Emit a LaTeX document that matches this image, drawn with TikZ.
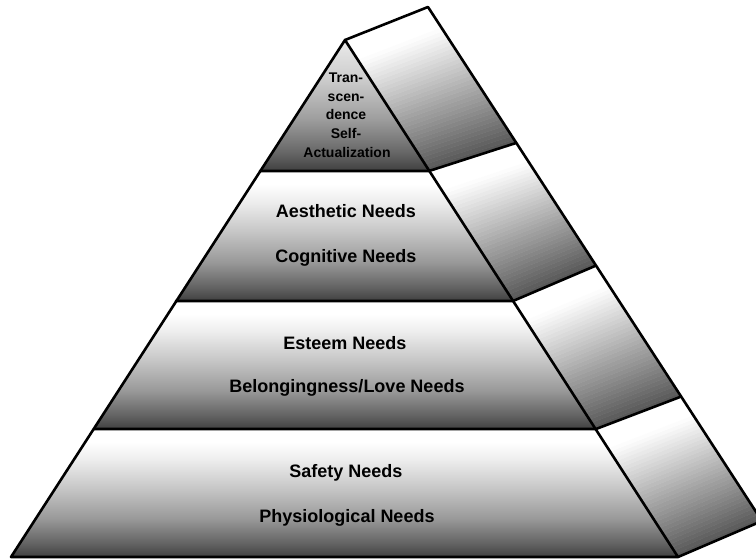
\documentclass[tikz,border=0pt]{standalone}
\usepackage{fontspec}
\setmainfont{Liberation Sans}
\usetikzlibrary{calc}
\pgfdeclareverticalshading{frontband}{100bp}{color(0bp)=(black!75); color(25bp)=(black!75); color(30bp)=(black!62); color(40bp)=(black!40); color(52bp)=(black!22); color(63bp)=(black!7); color(70bp)=(white); color(100bp)=(white)}
\pgfdeclareverticalshading{topband}{100bp}{color(0bp)=(black!75); color(25bp)=(black!75); color(32bp)=(black!60); color(45bp)=(black!38); color(60bp)=(black!20); color(75bp)=(black!8); color(100bp)=(black!8)}
% strips across a side band: lower-left, lower-right, upper-left, upper-right
\newcommand\sidestrips[4]{%
  \foreach \k in {0,...,39}{%
    \pgfmathsetmacro\ta{\k/40}%
    \pgfmathsetmacro\tb{(\k+1)/40}%
    \pgfmathsetmacro\cc{max(0,66*(1-(\ta+0.0125)/0.85))}%
    \fill[black!\cc, draw=black!\cc, line width=0.4pt]
      ($(#1)!\ta!(#3)$) -- ($(#2)!\ta!(#4)$) -- ($(#2)!\tb!(#4)$) -- ($(#1)!\tb!(#3)$) -- cycle;
  }}
\begin{document}
\begin{tikzpicture}[x=1pt,y=-1pt,
  edge/.style={line width=2.6pt, line join=round, line cap=round},
  lbl/.style={font=\fontsize{18}{20}\selectfont\bfseries, inner sep=0pt, anchor=base},
  toplbl/.style={font=\fontsize{14}{18}\selectfont\bfseries, inner sep=0pt, anchor=base}]
\useasboundingbox (0,0) rectangle (756,559);
\clip (0,0) rectangle (756,559);
% corners
\coordinate (A) at (345,40);
\coordinate (B) at (428,7);
\coordinate (L1) at (260,171); \coordinate (R1) at (429,171); \coordinate (S1) at (516,143);
\coordinate (L2) at (176,301); \coordinate (R2) at (513,301); \coordinate (S2) at (595,266);
\coordinate (L3) at (94,429);  \coordinate (R3) at (596,429); \coordinate (S3) at (680,397);
\coordinate (L4) at (11,557);  \coordinate (R4) at (678,557); \coordinate (S4) at (762,521);
% front face bands
\shade[shading=topband] (A) -- (R1) -- (L1) -- cycle;
\shade[shading=frontband] (L1) -- (R1) -- (R2) -- (L2) -- cycle;
\shade[shading=frontband] (L2) -- (R2) -- (R3) -- (L3) -- cycle;
\shade[shading=frontband] (L3) -- (R3) -- (R4) -- (L4) -- cycle;
% side face bands
\sidestrips{R1}{S1}{A}{B}
\sidestrips{R2}{S2}{R1}{S1}
\sidestrips{R3}{S3}{R2}{S2}
\sidestrips{R4}{S4}{R3}{S3}
% outlines
\draw[edge] (L4) -- (A) -- (R4) -- cycle;
\draw[edge] (A) -- (B) -- (S4) -- (R4);
\draw[edge] (L1) -- (R1) -- (S1);
\draw[edge] (L2) -- (R2) -- (S2);
\draw[edge] (L3) -- (R3) -- (S3);
% labels
\node[toplbl] (t1) at (346,83) {Tran-};
\node[toplbl] (t2) at (346,101.5) {scen-};
\node[toplbl] (t3) at (346,120) {dence};
\node[toplbl] (t4) at (346,138.5) {Self-};
\node[toplbl] (t5) at (347,158) {Actualization};
\node[lbl] (aes) at (346,218) {Aesthetic Needs};
\node[lbl] (cog) at (346,262) {Cognitive Needs};
\node[lbl] (est) at (345,349) {Esteem Needs};
\node[lbl] (bel) at (347,392) {Belongingness/Love Needs};
\node[lbl] (saf) at (346,477) {Safety Needs};
\node[lbl] (phy) at (347,522) {Physiological Needs};
\end{tikzpicture}
\end{document}
